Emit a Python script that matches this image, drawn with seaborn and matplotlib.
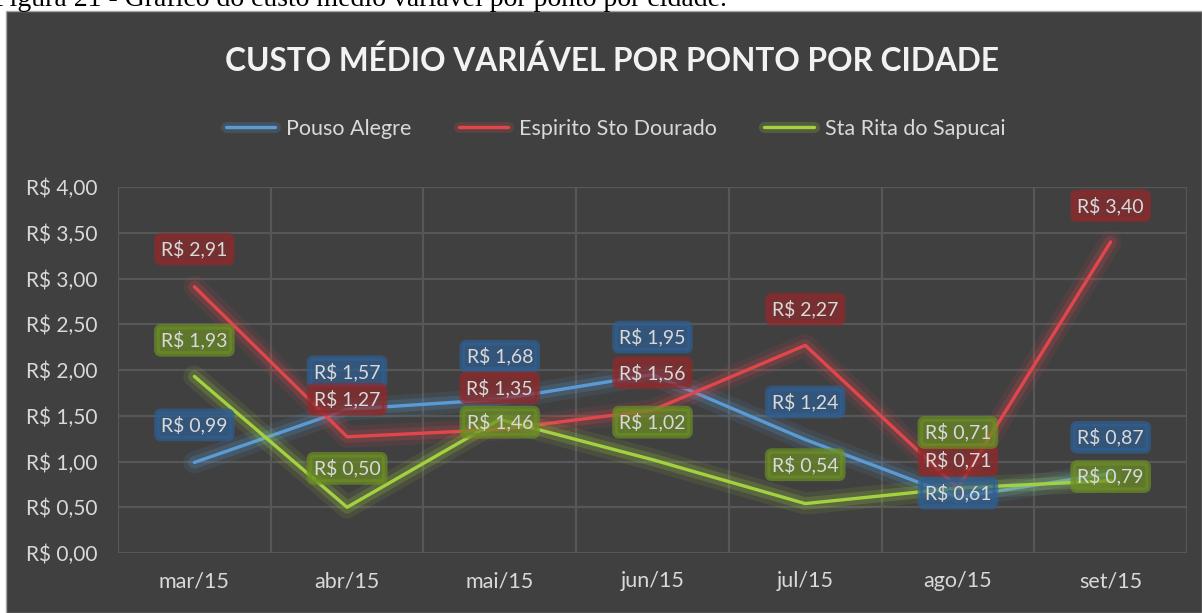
import numpy as np
import pandas as pd
import seaborn as sns
import matplotlib
matplotlib.use('Agg')
import matplotlib.pyplot as plt
import matplotlib.patheffects as pe
from matplotlib.patches import Rectangle
from matplotlib.ticker import FuncFormatter, FixedLocator

meses = ['mar/15', 'abr/15', 'mai/15', 'jun/15', 'jul/15', 'ago/15', 'set/15']
cidades = ['Pouso Alegre', 'Espirito Sto Dourado', 'Sta Rita do Sapucai']
pouso_alegre = [0.99, 1.57, 1.68, 1.95, 1.24, 0.61, 0.87]
espirito_santo = [2.91, 1.27, 1.35, 1.56, 2.27, 0.71, 3.40]
sta_rita = [1.93, 0.50, 1.46, 1.02, 0.54, 0.71, 0.79]

cores = {'Pouso Alegre': '#5B9BD5',
         'Espirito Sto Dourado': '#E0474C',
         'Sta Rita do Sapucai': '#A4D13F'}
caixas = {'Pouso Alegre': '#2F5F93',
          'Espirito Sto Dourado': '#8E2A2C',
          'Sta Rita do Sapucai': '#6C8F24'}
# deslocamento vertical do rotulo (pontos) por serie
desloc = {'Pouso Alegre': [27, 27, 31, 27, 27, 3, 26],
          'Espirito Sto Dourado': [27, 27, 30, 27, 26, 20, 26],
          'Sta Rita do Sapucai': [26, 28, -2, 27, 28, 40, 3]}

df = pd.DataFrame({
    'mes': meses * 3,
    'cidade': np.repeat(cidades, len(meses)),
    'valor': pouso_alegre + espirito_santo + sta_rita,
})

sns.set_style('dark')
plt.rcParams['font.family'] = ['Lato', 'DejaVu Sans']
fundo = '#404040'
texto = '#D9D9D9'

fig = plt.figure(figsize=(12.02, 6.13), dpi=100, facecolor='white')
fig.patches.append(Rectangle((6 / 1202, 0), 1 - 6 / 1202, 1 - 11 / 613, transform=fig.transFigure,
                             fc=fundo, ec='#A6A6A6', lw=1, zorder=-5))
fig.text(-0.005, 1 - 6 / 613, 'Figura 21 - Gráfico do custo médio variável por ponto por cidade.',
         family='Liberation Serif', fontsize=20, color='black', va='baseline', ha='left')

ax = fig.add_axes([118 / 1202, 1 - 553 / 613, (1187 - 118) / 1202, (553 - 187) / 613])
ax.set_facecolor(fundo)

sns.lineplot(data=df, x='mes', y='valor', hue='cidade', palette=cores, sort=False,
             lw=2.4, ax=ax, legend=False)
for linha, c in zip(ax.get_lines(), cidades):
    linha.set_path_effects([pe.Stroke(linewidth=16, foreground=cores[c], alpha=0.1),
                            pe.Stroke(linewidth=9, foreground=cores[c], alpha=0.2),
                            pe.Normal()])
    linha.set_solid_capstyle('round')

for c, vals in zip(cidades, [pouso_alegre, espirito_santo, sta_rita]):
    for i, v in enumerate(vals):
        ax.annotate('R$ ' + f'{v:.2f}'.replace('.', ','), (i, v), xytext=(0, desloc[c][i]),
                    textcoords='offset points', ha='center', va='center', fontsize=14,
                    color=texto, zorder=5,
                    bbox=dict(boxstyle='round,pad=0.22', fc=caixas[c], ec=caixas[c], lw=4, alpha=0.7))

ax.set_xlim(-0.5, 6.5)
ax.set_ylim(0, 4)
ax.set_yticks(np.arange(0, 4.01, 0.5))
ax.yaxis.set_major_formatter(FuncFormatter(lambda v, p: 'R$ ' + f'{v:.2f}'.replace('.', ',')))
ax.xaxis.set_minor_locator(FixedLocator(np.arange(-0.5, 7, 1)))
ax.grid(False)
ax.grid(True, axis='y', which='major', color='#575757', lw=1.6)
ax.grid(True, axis='x', which='minor', color='#575757', lw=1.6)
ax.set_axisbelow(True)
for s in ax.spines.values():
    s.set_visible(False)
ax.tick_params(axis='both', which='both', length=0, colors=texto, labelsize=15)
ax.tick_params(axis='x', labelsize=15.5)
ax.tick_params(axis='y', pad=15)
ax.tick_params(axis='x', pad=13)
ax.set_xlabel('')
ax.set_ylabel('')

fig.text(0.509, 1 - 61 / 613, 'CUSTO MÉDIO VARIÁVEL POR PONTO POR CIDADE', ha='center', va='center',
         fontsize=22.8, fontweight='bold', color='#F2F2F2')

handles = [plt.Line2D([], [], color=cores[c], lw=2.4,
                      path_effects=[pe.Stroke(linewidth=8, foreground=cores[c], alpha=0.2), pe.Normal()])
           for c in cidades]
fig.legend(handles, cidades, loc='center', bbox_to_anchor=(0.512, 1 - 129 / 613), ncol=3,
           frameon=False, fontsize=15.5, labelcolor=texto, handlelength=2.3, columnspacing=2.2,
           handletextpad=0.5)

fig.savefig('out.png', dpi=100, facecolor='white')
